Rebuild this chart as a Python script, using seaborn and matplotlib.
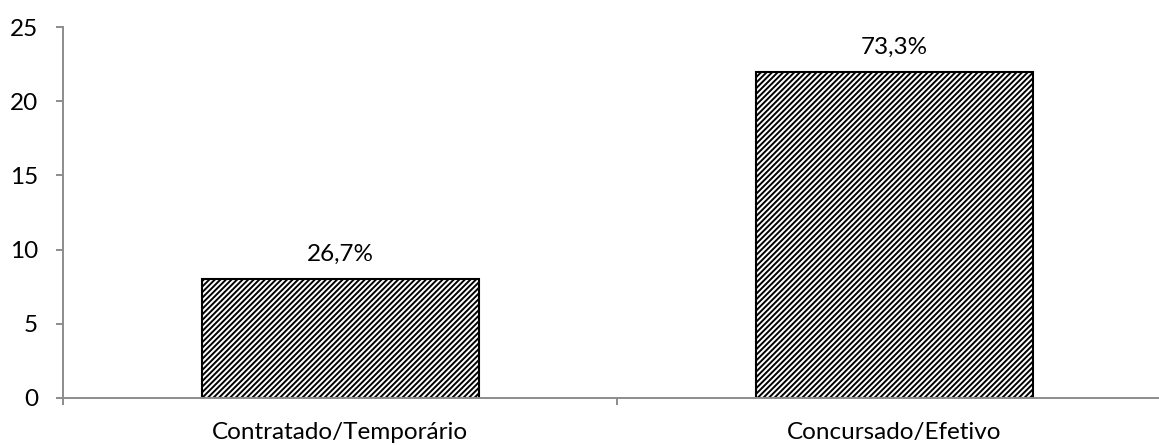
import matplotlib
matplotlib.use("Agg")
import matplotlib.pyplot as plt
import seaborn as sns
from matplotlib.ticker import FixedLocator

categories = ["Contratado/Temporário", "Concursado/Efetivo"]
counts = [8, 22]
percent_labels = ["26,7%", "73,3%"]
y_ticks = [0, 5, 10, 15, 20, 25]

sns.set_style("white")
plt.rcParams["font.family"] = ["Lato", "DejaVu Sans"]
plt.rcParams["hatch.linewidth"] = 1.4

fig = plt.figure(figsize=(11.59, 4.45), dpi=100)
ax = fig.add_axes([63 / 1159, 47 / 445, 1108 / 1159, 371 / 445])

sns.barplot(x=categories, y=counts, ax=ax, width=0.5, color="white",
            edgecolor="black", linewidth=1.5, hatch="//////", saturation=1)

for patch, txt in zip(ax.patches, percent_labels):
    ax.annotate(txt, (patch.get_x() + patch.get_width() / 2, patch.get_height()),
                xytext=(0, 13), textcoords="offset points",
                ha="center", va="baseline", fontsize=17.5, color="black")

ax.set_xlim(-0.5, 1.5)
ax.set_ylim(0, 25)
ax.set_yticks(y_ticks)
ax.set_xlabel("")
ax.set_ylabel("")

spine_color = "#8c8c8c"
for side in ["top", "right"]:
    ax.spines[side].set_visible(False)
for side in ["left", "bottom"]:
    ax.spines[side].set_color(spine_color)
    ax.spines[side].set_linewidth(1.4)

ax.xaxis.set_minor_locator(FixedLocator([-0.5, 0.5, 1.5]))
ax.tick_params(axis="x", which="major", length=0, pad=17, labelsize=17.5, colors="black")
ax.tick_params(axis="x", which="minor", length=5, width=1.4, color=spine_color,
               direction="out", bottom=True)
ax.tick_params(axis="y", which="major", length=5, width=1.4, color=spine_color,
               direction="out", pad=13, labelsize=17.5, labelcolor="black", left=True)

fig.savefig("out.png", dpi=100)
